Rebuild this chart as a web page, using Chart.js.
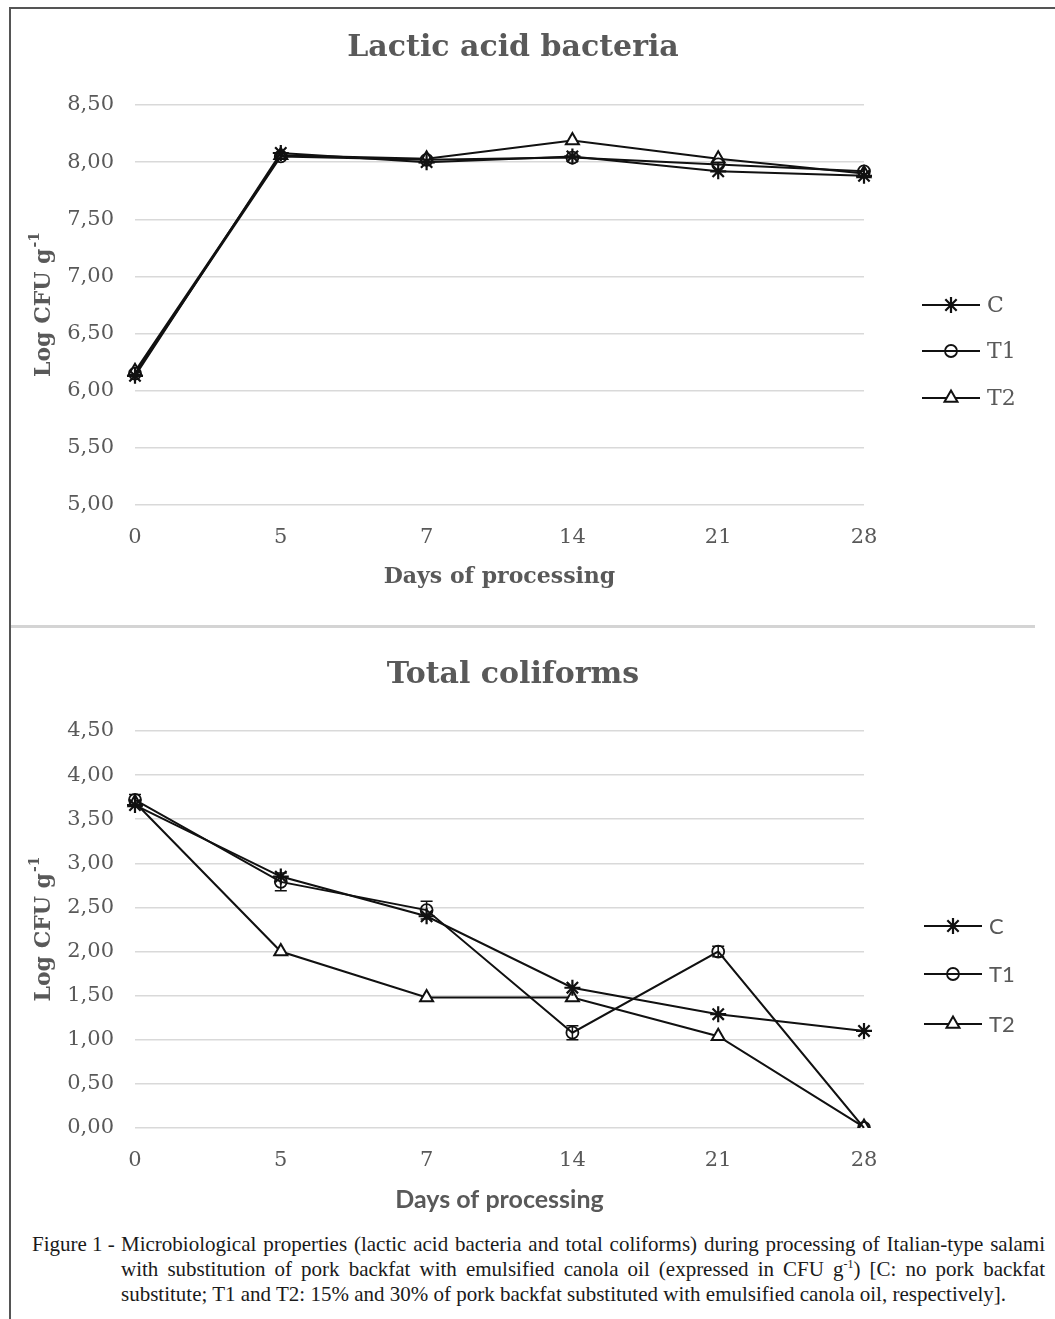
<!DOCTYPE html>
<html>
<head>
<meta charset="utf-8">
<script src="https://cdn.jsdelivr.net/npm/chart.js@4.4.1/dist/chart.umd.min.js"></script>
<style>
    body { margin: 0; background: #fff; width: 1055px; height: 1319px; position: relative; overflow: hidden; }
    #topBox { position: absolute; left: 0; top: 0; width: 1055px; height: 627px; }
    #bottomBox { position: absolute; left: 0; top: 627px; width: 1055px; height: 600px; }
    .frameTop { position: absolute; left: 10px; top: 7px; width: 1045px; height: 2px; background: #555; }
    .frameLeft { position: absolute; left: 9px; top: 7px; width: 2px; height: 1312px; background: #555; }
    .sep { position: absolute; left: 11px; top: 625px; width: 1024px; height: 3px; background: #d4d4d4; }
    #caption { position: absolute; left: 0; top: 1232px; width: 1055px; font-family: "Liberation Serif", serif; font-size: 21px; line-height: 25px; color: #1a1a1a; }
    #caption .lab { position: absolute; left: 32px; top: 0; }
    #caption .col { position: absolute; left: 121px; top: 0; width: 924px; }
    #caption .ln { text-align: justify; text-align-last: justify; }
    #caption .ln.last { text-align-last: left; }
    #caption sup { font-size: 12px; line-height: 0; }
</style>
</head>
<body>
<div id="topBox"><canvas id="labChart"></canvas></div>
<div id="bottomBox"><canvas id="colChart"></canvas></div>
<div class="frameTop"></div>
<div class="frameLeft"></div>
<div class="sep"></div>
<div id="caption">
    <span class="lab">Figure 1 -</span>
    <div class="col">
        <div class="ln">Microbiological properties (lactic acid bacteria and total coliforms) during processing of Italian-type salami</div>
        <div class="ln">with substitution of pork backfat with emulsified canola oil (expressed in CFU g<sup>-1</sup>) [C: no pork backfat</div>
        <div class="ln last">substitute; T1 and T2: 15% and 30% of pork backfat substituted with emulsified canola oil, respectively].</div>
    </div>
</div>
<script>
const days = ['0', '5', '7', '14', '21', '28']
const seriesNames = ['C', 'T1', 'T2']

// Lactic acid bacteria (Log CFU g-1)
const labC = [6.13, 8.08, 8.00, 8.05, 7.92, 7.88]
const labT1 = [6.15, 8.05, 8.02, 8.04, 7.98, 7.92]
const labT2 = [6.17, 8.06, 8.03, 8.19, 8.03, 7.90]
const labTicks = [5.0, 5.5, 6.0, 6.5, 7.0, 7.5, 8.0, 8.5]

// Total coliforms (Log CFU g-1)
const colC = [3.66, 2.85, 2.40, 1.59, 1.29, 1.10]
const colT1 = [3.72, 2.79, 2.47, 1.08, 2.00, 0.00]
const colT2 = [3.69, 2.00, 1.48, 1.48, 1.04, 0.01]
const colT1Err = [0.06, 0.10, 0.10, 0.08, 0.06, 0.00]
const colTicks = [0.0, 0.5, 1.0, 1.5, 2.0, 2.5, 3.0, 3.5, 4.0, 4.5]

const ink = '#111'
const grey = '#595959'
const serif = '"DejaVu Serif", serif'
const sans = 'Lato, "Liberation Sans", sans-serif'

const markers = [
    { pointStyle: 'star', radius: 8, borderWidth: 2.2, bg: ink },
    { pointStyle: 'circle', radius: 6, borderWidth: 1.8, bg: 'rgba(255,255,255,0)' },
    { pointStyle: 'triangle', radius: 7.5, borderWidth: 2, bg: '#fff' },
]

function comma(v) {
    return v.toFixed(2).replace('.', ',')
}

const extras = {
    id: 'extras',
    afterDatasetsDraw(chart, args, opts) {
        const ctx = chart.ctx
        const y = chart.scales.y
        ctx.save()
        ctx.strokeStyle = ink
        ctx.lineWidth = 1.5
        chart.data.datasets.forEach((ds, i) => {
            if (!ds.errorBars) return
            const meta = chart.getDatasetMeta(i)
            ds.errorBars.forEach((e, j) => {
                if (!e) return
                const x = meta.data[j].x
                const y1 = y.getPixelForValue(ds.data[j] - e)
                const y2 = y.getPixelForValue(ds.data[j] + e)
                ctx.beginPath()
                ctx.moveTo(x, y1); ctx.lineTo(x, y2)
                ctx.moveTo(x - 6, y1); ctx.lineTo(x + 6, y1)
                ctx.moveTo(x - 6, y2); ctx.lineTo(x + 6, y2)
                ctx.stroke()
            })
        })
        ctx.restore()
    },
    afterDraw(chart, args, opts) {
        const ctx = chart.ctx
        const area = chart.chartArea

        // chart title
        ctx.save()
        ctx.fillStyle = grey
        ctx.font = 'bold 30px ' + serif
        ctx.textAlign = 'center'
        ctx.textBaseline = 'middle'
        ctx.fillText(opts.title, opts.titleX, opts.titleY)
        ctx.restore()

        // rotated y title with superscript
        ctx.save()
        ctx.translate(opts.yTitleX, (area.top + area.bottom) / 2)
        ctx.rotate(-Math.PI / 2)
        ctx.fillStyle = grey
        ctx.textBaseline = 'alphabetic'
        ctx.font = 'bold 22px ' + serif
        const main = 'Log CFU g'
        const w1 = ctx.measureText(main).width
        ctx.font = 'bold 14px ' + serif
        const w2 = ctx.measureText('-1').width
        const x0 = -(w1 + w2) / 2
        ctx.font = 'bold 22px ' + serif
        ctx.fillText(main, x0, 8)
        ctx.font = 'bold 14px ' + serif
        ctx.fillText('-1', x0 + w1 + 1, -3)
        ctx.restore()

        // legend: line with marker
        ctx.save()
        chart.data.datasets.forEach((ds, i) => {
            const ly = opts.legendY[i]
            const lx = opts.legendX
            ctx.strokeStyle = ink
            ctx.lineWidth = 2
            ctx.beginPath()
            ctx.moveTo(lx, ly); ctx.lineTo(lx + 58, ly)
            ctx.stroke()
            const m = markers[i]
            ctx.fillStyle = m.bg
            ctx.lineWidth = m.borderWidth
            Chart.helpers.drawPoint(ctx, { pointStyle: m.pointStyle, radius: m.radius, borderWidth: m.borderWidth, rotation: 0 }, lx + 29, ly)
            ctx.fillStyle = grey
            ctx.font = opts.legendFont
            ctx.textBaseline = 'middle'
            ctx.fillText(ds.label, lx + 65, ly + 1)
        })
        ctx.restore()
    }
}

function makeChart(id, series, ticks, opt) {
    const datasets = series.map((data, i) => ({
        label: seriesNames[i],
        data: data,
        errorBars: opt.errors ? opt.errors[i] : null,
        borderColor: ink,
        borderWidth: 2,
        pointStyle: markers[i].pointStyle,
        pointRadius: markers[i].radius,
        pointBorderWidth: markers[i].borderWidth,
        pointBackgroundColor: markers[i].bg,
        pointBorderColor: ink,
        tension: 0,
    }))

    return new Chart(document.getElementById(id), {
        type: 'line',
        data: { labels: days, datasets: datasets },
        plugins: [extras],
        options: {
            responsive: true,
            maintainAspectRatio: false,
            animation: false,
            layout: { padding: { left: 0, right: 191, top: opt.areaTop, bottom: 0 } },
            plugins: {
                legend: { display: false },
                tooltip: { enabled: false },
                title: { display: false },
                extras: {
                    title: opt.title,
                    titleX: 513,
                    titleY: 48,
                    yTitleX: 42,
                    legendX: opt.legendX,
                    legendY: opt.legendY,
                    legendFont: opt.legendFont,
                },
            },
            scales: {
                x: {
                    offset: false,
                    afterFit: (scale) => { scale.height = opt.xHeight },
                    grid: { display: false, drawTicks: false },
                    border: { display: false },
                    ticks: {
                        color: grey,
                        padding: opt.xTickPad,
                        maxRotation: 0,
                        font: { family: serif, size: 21 },
                    },
                    title: {
                        display: true,
                        text: 'Days of processing',
                        color: grey,
                        font: opt.xTitleFont,
                        padding: { top: 0, bottom: opt.xTitlePad },
                    },
                },
                y: {
                    min: ticks[0],
                    max: ticks[ticks.length - 1],
                    afterFit: (scale) => { scale.width = 135 },
                    afterBuildTicks: (scale) => { scale.ticks = ticks.map(v => ({ value: v })) },
                    grid: { color: '#d9d9d9', lineWidth: 1.5, drawTicks: false },
                    border: { display: false },
                    ticks: {
                        color: grey,
                        padding: 21,
                        font: { family: serif, size: 21 },
                        callback: (v) => comma(v),
                    },
                },
            },
        },
    })
}

makeChart('labChart', [labC, labT1, labT2], labTicks, {
    title: 'Lactic acid bacteria',
    areaTop: 105,
    xHeight: 122,
    xTickPad: 20,
    xTitleFont: { family: serif, size: 22, weight: 'bold', lineHeight: 1.2 },
    xTitlePad: 37,
    legendX: 922,
    legendY: [305, 351, 398],
    legendFont: '22px ' + serif,
})

makeChart('colChart', [colC, colT1, colT2], colTicks, {
    title: 'Total coliforms',
    areaTop: 104,
    errors: [null, colT1Err, null],
    xHeight: 99,
    xTickPad: 20,
    xTitleFont: { family: sans, size: 25, weight: 'bold', lineHeight: 1.2 },
    xTitlePad: 12,
    legendX: 924,
    legendY: [926 - 627, 974 - 627, 1024 - 627],
    legendFont: '22px ' + sans,
})
</script>
</body>
</html>
